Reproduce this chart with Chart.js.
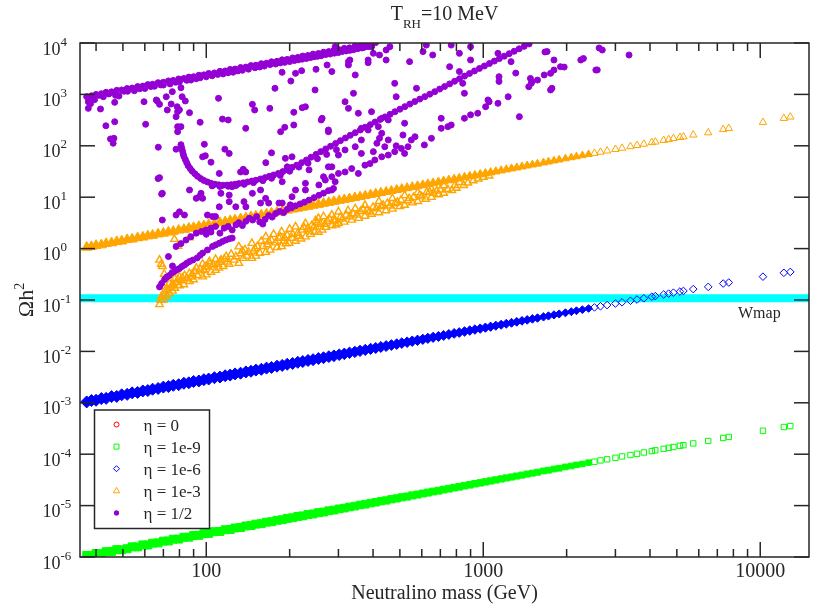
<!DOCTYPE html>
<html lang="en">
<head>
<meta charset="UTF-8">
<title>Relic density vs neutralino mass, T_RH = 10 MeV</title>
<script src="https://cdn.jsdelivr.net/npm/chart.js"></script>
<style>
    html, body {
        margin: 0;
        padding: 0;
        background: #ffffff;
        overflow: hidden;
    }
    #chart {
        display: block;
    }
</style>
</head>
<body>
<canvas id="chart" width="816" height="610"></canvas>
<script>
// neutralino masses (GeV) of the scan, shared by the eta = 1e-9, 1e-6, 1e-3 sets
const massScan = [
    37, 38.5, 40, 41.8, 43.5, 45.5, 47.5, 49.5, 51.8, 54,
    56.5, 59, 61.5, 64, 67, 70, 73, 76, 79.5, 83,
    86.5, 90, 94, 98, 102, 107, 112, 117, 122, 127,
    133, 139, 145, 151, 158, 165, 172, 180, 188, 196,
    205, 214, 223, 233, 243, 254, 265, 277, 289, 302,
    315, 329, 344, 359, 375, 392, 409, 427, 446, 466,
    487, 508, 531, 554, 579, 605, 631, 659, 689, 719,
    751, 785, 819, 856, 894, 933, 975, 1018, 1063, 1110,
    1160, 1211, 1265, 1321, 1380, 1441, 1505,
    1570, 1650, 1720, 1800, 1880, 1980, 2080, 2170, 2280, 2400,
    2520, 2650, 2800, 3000, 3170, 3400, 3590, 3800, 4060, 4180,
    4480, 4670, 4860, 5130, 5280, 5730, 6490, 7350, 7700, 10230,
    12170, 12840
];

// eta = 0 sits exactly under eta = 1e-9, nothing of it shows
const omegaEta0 = [];

const omegaEta9 = [
    1.07e-6, 1.08e-6, 1.17e-6, 1.16e-6, 1.27e-6, 1.28e-6, 1.39e-6, 1.38e-6, 1.45e-6, 1.58e-6,
    1.57e-6, 1.72e-6, 1.71e-6, 1.86e-6, 1.88e-6, 2.04e-6, 2.05e-6, 2.22e-6, 2.23e-6, 2.42e-6,
    2.43e-6, 2.62e-6, 2.64e-6, 2.84e-6, 2.88e-6, 3.11e-6, 3.14e-6, 3.39e-6, 3.43e-6, 3.67e-6,
    3.75e-6, 4.02e-6, 4.08e-6, 4.36e-6, 4.45e-6, 4.76e-6, 4.86e-6, 5.18e-6, 5.31e-6, 5.64e-6,
    5.80e-6, 6.15e-6, 6.31e-6, 6.69e-6, 6.88e-6, 7.28e-6, 7.50e-6, 7.93e-6, 8.19e-6, 8.64e-6,
    8.94e-6, 9.40e-6, 9.76e-6, 1.03e-5, 1.06e-5, 1.12e-5, 1.16e-5, 1.22e-5, 1.26e-5, 1.33e-5,
    1.38e-5, 1.45e-5, 1.50e-5, 1.58e-5, 1.64e-5, 1.72e-5, 1.79e-5, 1.88e-5, 1.95e-5, 2.05e-5,
    2.13e-5, 2.24e-5, 2.32e-5, 2.44e-5, 2.54e-5, 2.66e-5, 2.77e-5, 2.90e-5, 3.02e-5, 3.16e-5,
    3.30e-5, 3.45e-5, 3.60e-5, 3.76e-5, 3.92e-5, 4.11e-5, 4.28e-5,
    4.45e-5, 4.72e-5, 4.88e-5, 5.15e-5, 5.33e-5, 5.66e-5, 5.90e-5, 6.20e-5, 6.46e-5, 6.86e-5,
    7.14e-5, 7.57e-5, 7.95e-5, 8.52e-5, 9.05e-5, 9.64e-5, 1.02e-4, 1.08e-4, 1.15e-4, 1.19e-4,
    1.27e-4, 1.33e-4, 1.38e-4, 1.46e-4, 1.50e-4, 1.62e-4, 1.81e-4, 2.07e-4, 2.17e-4, 2.86e-4,
    3.38e-4, 3.52e-4
];

const omegaEta6 = [
    1.04e-3, 1.11e-3, 1.12e-3, 1.21e-3, 1.22e-3, 1.32e-3, 1.33e-3, 1.43e-3, 1.46e-3, 1.56e-3,
    1.59e-3, 1.70e-3, 1.73e-3, 1.84e-3, 1.90e-3, 2.02e-3, 2.07e-3, 2.19e-3, 2.25e-3, 2.40e-3,
    2.45e-3, 2.60e-3, 2.66e-3, 2.82e-3, 2.90e-3, 3.08e-3, 3.17e-3, 3.36e-3, 3.46e-3, 3.65e-3,
    3.77e-3, 3.99e-3, 4.11e-3, 4.33e-3, 4.48e-3, 4.73e-3, 4.88e-3, 5.16e-3, 5.34e-3, 5.62e-3,
    5.82e-3, 6.13e-3, 6.34e-3, 6.67e-3, 6.91e-3, 7.26e-3, 7.53e-3, 7.91e-3, 8.21e-3, 8.62e-3,
    8.96e-3, 9.39e-3, 9.78e-3, 1.025e-2, 1.07e-2, 1.12e-2, 1.165e-2, 1.22e-2, 1.27e-2, 1.33e-2,
    1.385e-2, 1.45e-2, 1.51e-2, 1.58e-2, 1.645e-2, 1.72e-2, 1.795e-2, 1.88e-2, 1.955e-2, 2.05e-2,
    2.135e-2, 2.24e-2, 2.33e-2, 2.44e-2, 2.545e-2, 2.66e-2, 2.775e-2, 2.90e-2, 3.025e-2, 3.16e-2,
    3.30e-2, 3.45e-2, 3.60e-2, 3.76e-2, 3.93e-2, 4.10e-2, 4.29e-2,
    4.46e-2, 4.70e-2, 4.90e-2, 5.13e-2, 5.35e-2, 5.64e-2, 5.92e-2, 6.18e-2, 6.49e-2, 6.84e-2,
    7.17e-2, 7.55e-2, 7.97e-2, 8.54e-2, 9.02e-2, 9.67e-2, 0.102, 0.108, 0.116, 0.119,
    0.128, 0.133, 0.139, 0.146, 0.150, 0.163, 0.180, 0.209, 0.219, 0.284,
    0.338, 0.352
];

const omegaEta3 = [
    1.06, 1.09, 1.15, 1.18, 1.25, 1.29, 1.36, 1.40, 1.49, 1.53,
    1.62, 1.67, 1.76, 1.81, 1.92, 1.99, 2.09, 2.16, 2.28, 2.36,
    2.48, 2.56, 2.69, 2.78, 2.92, 3.04, 3.20, 3.32, 3.49, 3.61,
    3.80, 3.95, 4.14, 4.29, 4.51, 4.69, 4.91, 5.12, 5.37, 5.58,
    5.85, 6.09, 6.37, 6.63, 6.94, 7.23, 7.56, 7.88, 8.25, 8.60,
    8.99, 9.37, 9.81, 10.2, 10.7, 11.2, 11.7, 12.2, 12.7, 13.3,
    13.9, 14.5, 15.1, 15.8, 16.5, 17.2, 18.0, 18.8, 19.6, 20.5,
    21.4, 22.4, 23.3, 24.4, 25.5, 26.6, 27.8, 29.0, 30.3, 31.6,
    33.0, 34.5, 36.0, 37.6, 39.3, 41.1, 42.9,
    44.6, 47.0, 49.0, 51.3, 53.5, 56.4, 59.2, 61.8, 64.9, 68.4,
    71.7, 75.5, 79.7, 85.4, 90.2, 96.7, 102, 108, 116, 119,
    128, 133, 139, 146, 150, 163, 180, 208, 219, 287,
    343, 365
];

// eta = 1e-3: the lower branch that starts at the W threshold, [mass, omega]
const eta3Branch = [
    [67.8, 0.082], [68.5, 0.1], [68.8, 0.116], [70, 0.1], [70.5, 0.125], [70.8, 0.15],
    [72, 0.118], [72.5, 0.16], [73.6, 0.135], [73.6, 0.21], [74, 0.17], [75, 0.19],
    [75.5, 0.15], [76, 0.2], [77, 0.17], [77, 0.26], [78, 0.22], [79, 0.25],
    [80, 0.19], [80, 0.284], [81, 0.24], [82, 0.27], [83, 0.2], [83.5, 0.3], [85, 0.26],
    [86.9, 0.23], [86.9, 0.33], [88, 0.28], [89, 0.32], [90, 0.25], [91, 0.36], [92, 0.42], [93, 0.3],
    [95, 0.4], [97, 0.284], [97, 0.5], [98, 0.38], [99, 0.45], [100, 0.31], [101, 0.44], [102.6, 0.56],
    [103, 0.5], [104, 0.35], [106, 0.48], [108, 0.38], [108, 0.62], [110, 0.5], [111, 0.42], [112, 0.55],
    [113, 0.6], [115, 0.45], [116, 0.62], [118, 0.7], [119, 0.55], [121, 0.5], [123, 0.78], [126, 0.6],
    [128, 0.7], [131, 0.52], [131, 1.09], [133, 0.8], [135, 0.9], [136, 0.65], [138, 0.95], [140, 0.72],
    [142, 0.85], [146, 0.65], [146, 1.27], [148, 0.9], [150, 1.0], [151, 0.72], [153, 1.1], [156, 0.82],
    [158, 1.4], [160, 1.1], [164, 0.85], [164, 1.7], [166, 1.2], [168, 1.35], [170, 0.94], [172, 1.45],
    [175, 1.9], [178, 1.3], [180, 1.05], [183, 1.6], [185, 1.7], [187, 1.1], [187, 2.14], [190, 1.4],
    [192, 1.6], [194, 1.25], [196, 1.8], [199, 1.27], [200, 2.4], [204, 1.6], [205, 1.9], [210, 1.4],
    [210, 2.67], [214, 2.0], [215, 1.75], [220, 1.55], [222, 2.3], [225, 2.6], [228, 1.7], [228, 3.1],
    [232, 2.4], [236, 2.2], [238, 1.9], [240, 2.8], [244, 2.6], [246, 2.1], [248, 3.5], [252, 3.2],
    [254, 2.1], [254, 3.9], [258, 3.0], [262, 2.3], [265, 4.2], [268, 3.0], [270, 2.6], [274, 3.4],
    [278, 3.8], [284, 2.8], [284, 4.5], [288, 3.6], [292, 3.5], [294, 2.9], [300, 3.1], [300, 5.2],
    [305, 4.1], [310, 3.8], [315, 3.3], [320, 4.5], [325, 5.5], [330, 4.2], [335, 3.6], [338, 4.8],
    [345, 6.0], [350, 4.5], [355, 3.9], [360, 5.3], [368, 5.8], [374, 4.3], [374, 7.0], [380, 5.5],
    [388, 5.2], [395, 4.7], [400, 6.4], [410, 6.0], [420, 5.0], [420, 8.3], [428, 6.6], [435, 7.0],
    [445, 5.5], [450, 7.6], [460, 6.8], [470, 5.9], [470, 9.5], [480, 7.6], [490, 8.0], [500, 6.6],
    [505, 8.8], [520, 7.0], [520, 10.8], [535, 8.6], [540, 9.5], [555, 7.8], [560, 10.0], [580, 8.3],
    [580, 12.3], [590, 11.0], [600, 10.2], [620, 9.2], [625, 12.5], [640, 12.8], [650, 10.0], [650, 14.5],
    [660, 12.0], [680, 13.2], [690, 11.2], [700, 14.0], [720, 12.0], [720, 16.8], [745, 14.2], [770, 13.5],
    [790, 17.0], [800, 15.0], [820, 19.5], [850, 17.0], [880, 19.0], [920, 21.0], [960, 22.8],
    [1000, 24.5], [1050, 26.0],
    [67.8, 0.6], [68.8, 0.5], [69.4, 0.45], [70.5, 0.32], [76.7, 1.52], [79, 1.12], [86.9, 1.63]
];

// eta = 1/2: the upper line, omega growing with the mass
const halfMain = [
    [37, 905], [38.5, 940], [40, 1000], [41.8, 1030], [43.5, 1100], [45.5, 1120], [47.5, 1200], [49.5, 1220],
    [51.8, 1300], [54, 1330], [56.5, 1420], [59, 1450], [61.5, 1550], [64, 1580], [67, 1690], [70, 1720],
    [73, 1830], [76, 1870], [79.5, 2000], [83, 2040], [86.5, 2170], [90, 2210], [94, 2360], [98, 2400],
    [102, 2560], [107, 2620], [112, 2810], [117, 2860], [122, 3060], [127, 3110], [133, 3330], [139, 3400],
    [145, 3630], [151, 3700], [158, 3960], [165, 4040], [172, 4310], [180, 4400], [188, 4710], [196, 4800],
    [205, 5130], [214, 5250], [223, 5580], [233, 5710], [243, 6080], [254, 6250], [265, 6630], [277, 6800],
    [289, 7230], [302, 7400], [315, 7880], [329, 8050], [344, 8610], [359, 8800], [375, 9380], [392, 9600],
    [409, 10200],
    [38, 820], [39.5, 790], [42.5, 900], [47, 960], [52, 1150], [55, 1180], [60, 1300], [65, 1440],
    [70, 1520], [74, 1600], [80, 1760], [88, 1900], [95, 2100], [105, 2300], [115, 2500], [125, 2700],
    [135, 2950], [150, 3300], [162, 3550], [170, 3800], [185, 4100], [200, 4350], [215, 4700], [230, 5000],
    [245, 5400], [260, 5650], [280, 6100], [300, 6500], [320, 7000], [340, 7400], [365, 8000], [385, 8500],
    [41, 960], [44.5, 1020], [50.5, 1150], [57.5, 1290], [63, 1420], [68.5, 1530], [77.5, 1720], [85, 1880],
    [92, 2020], [100, 2200], [110, 2450], [120, 2640], [130, 2860], [142, 3100], [156, 3420], [178, 3900],
    [192, 4200], [208, 4550], [222, 4850], [238, 5200], [252, 5500], [270, 5950], [290, 6350], [310, 6850],
    [330, 7200], [352, 7750], [372, 8250], [395, 8800]
];

// eta = 1/2: the valley with its minimum near 110 GeV
const halfValley = [
    [81, 105], [81.5, 92], [82, 80], [82.5, 70], [83, 62], [84, 54], [85, 47], [86, 41], [87.5, 36],
    [89, 32], [91, 28.5], [93, 25.5], [95.5, 23], [98, 21.2], [101, 19.8], [104, 18.7], [107.5, 17.9],
    [111, 17.4], [115, 17.1], [119, 17.2], [123, 17.5], [127, 17.9], [131, 18.4], [136, 19], [141, 19.8],
    [146, 20.6], [151, 21.4], [157, 22.6], [163, 24], [169, 25.5], [175, 27], [182, 29], [189, 31.5],
    [196, 34.5], [204, 38], [212, 42], [221, 47], [230, 53], [239, 60], [249, 68], [259, 77], [270, 87],
    [281, 98], [293, 111], [305, 126], [318, 142], [331, 160], [345, 180], [360, 204], [375, 230],
    [391, 258], [407, 290], [424, 325], [442, 365], [461, 410], [480, 460], [500, 515], [521, 578],
    [543, 648], [566, 725], [590, 810], [615, 905], [641, 1010], [668, 1130], [696, 1270], [725, 1420],
    [756, 1600], [788, 1800], [821, 2020], [856, 2270], [892, 2550], [930, 2860], [969, 3200], [1010, 3570],
    [1053, 3990], [1097, 4450], [1143, 4970], [1191, 5550], [1241, 6200], [1293, 6900], [1348, 7700],
    [1405, 8600], [1464, 9600],
    [105, 16.6], [112, 16.2], [120, 16.3], [128, 16.9], [137, 17.8], [148, 19.2], [160, 21], [172, 23.3],
    [185, 26.5], [200, 32], [216, 38.5], [233, 46], [252, 56], [272, 68], [295, 84]
];

// eta = 1/2: everything off the two main curves
const halfScatter = [
    [37.5, 720], [37.5, 535], [38.2, 660], [41.5, 520], [43.4, 245], [45.1, 136], [46.1, 112], [46.4, 140],
    [46.7, 294], [46.7, 700], [48.4, 930], [59.6, 720], [60.4, 262], [66, 780], [66.5, 745], [67.8, 640],
    [67.1, 94], [71.7, 900], [72.3, 497], [74.7, 650], [75.4, 1130], [78.5, 575], [78.8, 461], [77.8, 369],
    [78.8, 236], [78.8, 188], [80, 500], [81, 236], [81, 1350], [81.8, 900], [84, 745], [87, 441], [95, 287],
    [98.4, 107], [99.2, 64], [97, 61], [104, 48], [110.7, 840], [114.4, 331], [120, 318], [116.7, 86],
    [121, 71], [138.8, 219], [146.7, 640], [149.5, 497], [169.6, 535], [177, 1316], [185.5, 188],
    [187.8, 2690], [192, 229], [202, 1820], [207, 449], [207, 254], [210, 2570], [221, 2890], [222, 551],
    [247, 1220], [249, 3080], [260, 318], [273, 3730], [193, 57], [172, 73], [133, 31], [136, 35], [164, 47],
    [173, 25], [188, 20], [196, 39], [204, 61], [67.8, 24], [69, 11.5], [77.8, 86], [228, 575], [262, 343],
    [276, 188], [292, 8500], [326, 3730], [330, 4670], [345, 2390], [340, 1050], [317, 720], [326, 535],
    [354, 430], [384, 4670], [395, 8500], [401, 6300], [446, 7300], [460, 8500], [479, 1640], [542, 4340],
    [574, 1316], [606, 6800], [623, 9100], [657, 5840], [756, 3460], [766, 9100], [820, 6300], [820, 2780],
    [900, 4670], [900, 8500], [1130, 6300], [1260, 4340], [1480, 2050], [1500, 1770], [1770, 1316],
    [1660, 2390], [1800, 2980], [1900, 3460], [2250, 4670], [2300, 5000], [2550, 2980], [2620, 8000],
    [2690, 7300], [3360, 5840], [1670, 6700], [284, 2780], [326, 4340], [384, 4140], [422, 5840],
    [446, 4670], [485, 900], [276, 203], [363, 219], [430, 343], [520, 275], [843, 1640], [855, 1050],
    [67, 23], [69.4, 11.9], [69.4, 3.6], [80, 5.2], [83.4, 4.5], [87, 13.8], [95.7, 11.9], [97, 9.5],
    [105.3, 4.2], [111.4, 29], [112.9, 11.9], [121, 8.2], [121, 11], [124, 16], [127.8, 6.5], [136.8, 8.2],
    [138.8, 31], [146.7, 11.9], [157, 13.8], [163.8, 9.5], [168, 7.7], [188, 7.7], [201, 7.1], [204, 10.2],
    [210, 13.8], [228, 18.6], [228, 13.8], [235, 34], [255, 17.3], [265, 25], [276, 39], [284, 13.8],
    [292, 20], [77.8, 4.5], [92, 9.5], [94.4, 10.2], [101, 4.5], [108, 4.2], [111.4, 6.5], [139, 6.5],
    [157, 7.7], [183, 7.7],
    [67.8, 0.18], [69, 0.21], [70.7, 0.25], [72, 0.28], [73.6, 0.3], [75.2, 0.34], [76.8, 0.36],
    [78.5, 0.39], [80, 0.41], [81.7, 0.45], [83.4, 0.48], [85, 0.52], [87, 0.56], [89.5, 0.6],
    [92.7, 0.66], [95, 0.74], [97, 0.82], [101, 0.94], [105.3, 1.1], [108, 1.18], [111.4, 1.27],
    [114.5, 1.38], [117.7, 1.47], [121, 1.55], [124, 1.6],
    [73, 0.7], [75.5, 0.46], [77.8, 1.1], [81, 1.25], [84.5, 1.47], [88, 1.7], [92, 2.0], [96, 2.15],
    [99.8, 2.3], [104, 2.5], [108, 2.7],
    [100, 1.9], [104, 2.1], [112, 2.0], [116, 2.5], [120, 2.7], [124, 2.3], [128, 2.9], [131, 3.2],
    [135, 2.8], [139, 3.4], [143, 3.9], [147, 3.6], [152, 4.2], [156, 3.3], [160, 3.0], [163, 3.7],
    [168, 4.4], [173, 4.1], [178, 4.8], [184, 5.3], [190, 5.0], [196, 5.8], [203, 6.2], [210, 6.8],
    [218, 7.4], [226, 8.0], [235, 8.8], [245, 9.8], [255, 10.9], [265, 12], [276, 13.4], [288, 14.8],
    [269, 21.6], [284, 25], [300, 29], [317, 31], [335, 36], [354, 29], [374, 42], [390, 45], [406, 53],
    [430, 61], [454, 66], [479, 77], [506, 89], [535, 96], [550, 130], [513, 162], [441, 96], [454, 130],
    [422, 140], [384, 203], [418, 236], [395, 461], [454, 318], [363, 130], [345, 96], [363, 71],
    [401, 77], [413, 112], [430, 175], [485, 100], [520, 71], [567, 150], [613, 104], [650, 140],
    [705, 343], [705, 219], [745, 236], [766, 254], [855, 343], [900, 400], [955, 430], [1020, 575],
    [1050, 720], [1130, 670], [1140, 2210], [1140, 1790], [1350, 369], [1230, 900], [1460, 1410],
    [1490, 1640], [1570, 1900], [1750, 2570], [1700, 6800], [1800, 4670], [1750, 1220], [317, 83],
    [284, 39], [300, 66], [1040, 780], [1310, 2600], [1960, 3400], [2580, 2990]
];

// WMAP range of omega h^2
const wmapBand = [0.09, 0.13];

const legendLabels = ['η = 0', 'η = 1e-9', 'η = 1e-6', 'η = 1e-3', 'η = 1/2'];
const xMajorTicks = [100, 1000, 10000];
const xTickLabels = ['100', '1000', '10000'];
const xMinorTicks = [40, 50, 60, 70, 80, 90, 200, 300, 400, 500, 600, 700, 800, 900,
                     2000, 3000, 4000, 5000, 6000, 7000, 8000, 9000];
const yExponents = [-6, -5, -4, -3, -2, -1, 0, 1, 2, 3, 4];

const SERIF = '"Liberation Serif", "Times New Roman", serif';
const INK = '#262626';
const COLORS = {
    red: '#ff0000',
    green: '#00ff00',
    blue: '#0000ff',
    orange: '#ffa500',
    violet: '#9400d3',
    cyan: '#00ffff'
};
// the scan thins out between these masses; symbols shrink and open up across it
const DENSE_FULL = 250;
const DENSE_BELOW = 2500;

function points(xs, ys) {
    return xs.map((m, i) => ({ x: m, y: ys[i] }));
}

function pairs(list) {
    return list.map(([m, o]) => ({ x: m, y: o }));
}

// where the scan is dense the open symbols merge into a solid band
function solidWhenDense(color) {
    return ctx => (ctx.raw && ctx.raw.x < DENSE_BELOW ? color : 'rgba(0,0,0,0)');
}

function sizeByDensity(dense, sparse) {
    const span = Math.log10(DENSE_BELOW / DENSE_FULL);
    return ctx => {
        if (!ctx.raw) return sparse;
        const t = Math.min(1, Math.max(0, Math.log10(DENSE_BELOW / ctx.raw.x) / span));
        return sparse + (dense - sparse) * t;
    };
}

// legend symbols, drawn by hand so they sit inside the frame
function drawSymbol(ctx, kind, x, y, color) {
    ctx.save();
    ctx.strokeStyle = color;
    ctx.fillStyle = color;
    ctx.lineWidth = 1;
    ctx.beginPath();
    if (kind === 'circle') {
        ctx.arc(x, y, 2.5, 0, Math.PI * 2);
        ctx.stroke();
    } else if (kind === 'square') {
        ctx.rect(x - 2.5, y - 2.5, 5, 5);
        ctx.stroke();
    } else if (kind === 'diamond') {
        ctx.moveTo(x, y - 3);
        ctx.lineTo(x + 3, y);
        ctx.lineTo(x, y + 3);
        ctx.lineTo(x - 3, y);
        ctx.closePath();
        ctx.stroke();
    } else if (kind === 'triangle') {
        ctx.moveTo(x, y - 3.5);
        ctx.lineTo(x + 3.2, y + 2);
        ctx.lineTo(x - 3.2, y + 2);
        ctx.closePath();
        ctx.stroke();
    } else {
        ctx.arc(x, y, 2.6, 0, Math.PI * 2);
        ctx.fill();
    }
    ctx.restore();
}

const frameAndText = {
    id: 'frameAndText',
    afterDatasetsDraw(chart) {
        const { ctx, chartArea: a, scales } = chart;
        const sx = scales.x;
        const sy = scales.y;
        const line = (x1, y1, x2, y2) => {
            ctx.beginPath();
            ctx.moveTo(x1, y1);
            ctx.lineTo(x2, y2);
            ctx.stroke();
        };

        ctx.save();
        ctx.strokeStyle = INK;
        ctx.fillStyle = INK;
        ctx.lineWidth = 1.5;
        ctx.strokeRect(a.left, a.top, a.right - a.left, a.bottom - a.top);

        // ticks point inward on all four sides
        xMajorTicks.forEach(v => {
            const px = sx.getPixelForValue(v);
            line(px, a.bottom, px, a.bottom - 15);
            line(px, a.top, px, a.top + 15);
        });
        xMinorTicks.forEach(v => {
            const px = sx.getPixelForValue(v);
            line(px, a.bottom, px, a.bottom - 8);
            line(px, a.top, px, a.top + 8);
        });
        yExponents.forEach(e => {
            const py = sy.getPixelForValue(Number('1e' + e));
            line(a.left, py, a.left + 15, py);
            line(a.right, py, a.right - 15, py);
        });

        // x tick labels
        ctx.font = `20px ${SERIF}`;
        ctx.textAlign = 'center';
        ctx.textBaseline = 'alphabetic';
        xMajorTicks.forEach((v, i) => {
            ctx.fillText(xTickLabels[i], sx.getPixelForValue(v), a.bottom + 20);
        });

        // y tick labels as powers of ten
        ctx.textAlign = 'left';
        yExponents.forEach(e => {
            const py = sy.getPixelForValue(Number('1e' + e));
            ctx.font = `18px ${SERIF}`;
            const bw = ctx.measureText('10').width;
            ctx.fillText('10', 42.5, py + 11.5);
            ctx.font = `13px ${SERIF}`;
            ctx.fillText(String(e), 42.5 + bw, py + 2.5);
        });

        // axis titles
        ctx.font = `20px ${SERIF}`;
        ctx.textAlign = 'center';
        ctx.fillText('Neutralino mass (GeV)', (a.left + a.right) / 2, a.bottom + 42);

        ctx.save();
        ctx.translate(33, (a.top + a.bottom) / 2);
        ctx.rotate(-Math.PI / 2);
        ctx.textAlign = 'left';
        ctx.font = `22px ${SERIF}`;
        const wOm = ctx.measureText('Ωh').width;
        ctx.font = `14px ${SERIF}`;
        const wSq = ctx.measureText('2').width;
        const start = -(wOm + wSq) / 2;
        ctx.font = `22px ${SERIF}`;
        ctx.fillText('Ωh', start, 0);
        ctx.font = `14px ${SERIF}`;
        ctx.fillText('2', start + wOm, -9);
        ctx.restore();

        // title with subscript
        ctx.textAlign = 'left';
        ctx.font = `20px ${SERIF}`;
        const wT = ctx.measureText('T').width;
        const wRest = ctx.measureText('=10 MeV').width;
        ctx.font = `13px ${SERIF}`;
        const wSub = ctx.measureText('RH').width;
        const tx = (a.left + a.right) / 2 - (wT + wSub + wRest) / 2;
        ctx.font = `20px ${SERIF}`;
        ctx.fillText('T', tx, 20);
        ctx.font = `13px ${SERIF}`;
        ctx.fillText('RH', tx + wT, 28);
        ctx.font = `20px ${SERIF}`;
        ctx.fillText('=10 MeV', tx + wT + wSub, 20);

        // band label
        ctx.font = `16px ${SERIF}`;
        ctx.fillText('Wmap', a.right - 71, sy.getPixelForValue(wmapBand[0]) + 16);

        // legend box
        const lx = a.left + 14.5;
        const ly = a.bottom - 147;
        ctx.fillStyle = '#ffffff';
        ctx.fillRect(lx, ly, 115, 118.5);
        ctx.strokeRect(lx, ly, 115, 118.5);
        const kinds = ['circle', 'square', 'diamond', 'triangle', 'dot'];
        const colors = [COLORS.red, COLORS.green, COLORS.blue, COLORS.orange, COLORS.violet];
        ctx.font = `17px ${SERIF}`;
        legendLabels.forEach((label, i) => {
            const ry = ly + 14.5 + i * 22.1;
            drawSymbol(ctx, kinds[i], lx + 22, ry, colors[i]);
            ctx.fillStyle = INK;
            ctx.fillText(label, lx + 49, ry + 6);
        });
        ctx.restore();
    }
};

const ctx = document.getElementById('chart').getContext('2d');

new Chart(ctx, {
    type: 'scatter',
    data: {
        datasets: [
            {
                label: legendLabels[0],
                data: points(massScan.slice(0, omegaEta0.length), omegaEta0),
                pointStyle: 'circle',
                pointRadius: 2.5,
                borderWidth: 1,
                borderColor: COLORS.red,
                backgroundColor: 'rgba(0,0,0,0)',
                order: 4
            },
            {
                label: legendLabels[1],
                data: points(massScan, omegaEta9),
                pointStyle: 'rect',
                pointRadius: sizeByDensity(5.6, 3.8),
                borderWidth: 1,
                borderColor: COLORS.green,
                backgroundColor: solidWhenDense(COLORS.green),
                order: 3
            },
            {
                label: legendLabels[2],
                data: points(massScan, omegaEta6),
                pointStyle: 'rectRot',
                pointRadius: sizeByDensity(6, 3.8),
                borderWidth: 1,
                borderColor: COLORS.blue,
                backgroundColor: solidWhenDense(COLORS.blue),
                order: 2
            },
            {
                label: legendLabels[3],
                data: points(massScan, omegaEta3),
                pointStyle: 'triangle',
                pointRadius: sizeByDensity(5.8, 4.3),
                borderWidth: 1,
                borderColor: COLORS.orange,
                backgroundColor: solidWhenDense(COLORS.orange),
                order: 1
            },
            {
                label: legendLabels[3] + ' (lower branch)',
                data: pairs(eta3Branch),
                pointStyle: 'triangle',
                pointRadius: 4.3,
                borderWidth: 1.4,
                borderColor: COLORS.orange,
                backgroundColor: 'rgba(0,0,0,0)',
                order: 1
            },
            {
                label: legendLabels[4],
                data: pairs([...halfMain, ...halfValley, ...halfScatter]),
                pointStyle: 'circle',
                pointRadius: 3,
                borderWidth: 1,
                borderColor: COLORS.violet,
                backgroundColor: COLORS.violet,
                order: 0
            },
            {
                type: 'line',
                label: 'Wmap',
                data: [{ x: 35, y: wmapBand[1] }, { x: 15000, y: wmapBand[1] }],
                fill: { value: wmapBand[0] },
                backgroundColor: COLORS.cyan,
                borderColor: COLORS.cyan,
                borderWidth: 0,
                pointRadius: 0,
                order: 5
            }
        ]
    },
    options: {
        responsive: false,
        animation: false,
        devicePixelRatio: 1,
        events: [],
        layout: {
            padding: { left: 80, right: 3, top: 43, bottom: 53 }
        },
        plugins: {
            legend: { display: false },
            tooltip: { enabled: false },
            title: { display: false }
        },
        scales: {
            x: {
                type: 'logarithmic',
                min: 35,
                max: 15000,
                display: false
            },
            y: {
                type: 'logarithmic',
                min: 1e-6,
                max: 1e4,
                display: false
            }
        }
    },
    plugins: [frameAndText]
});
</script>
</body>
</html>
